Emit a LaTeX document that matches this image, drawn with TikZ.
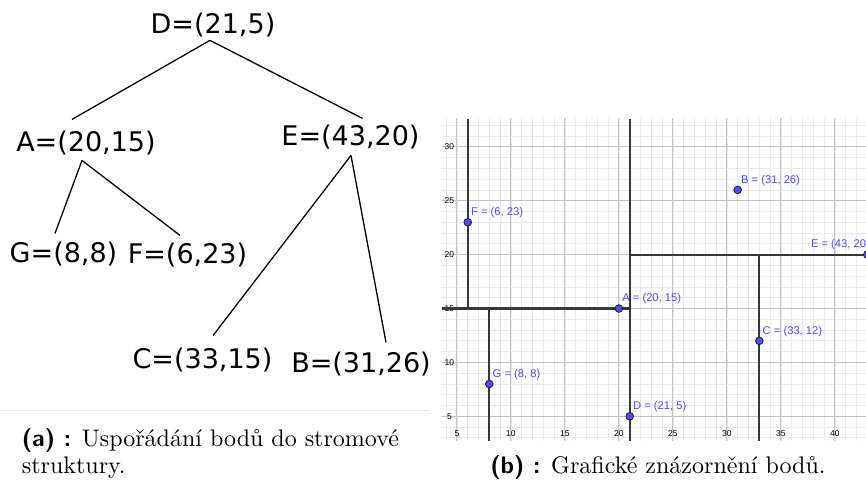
\documentclass[tikz,border=0pt]{standalone}
\usepackage{fontspec}
\setmainfont{lmroman10-regular.otf}[BoldFont=lmroman10-bold.otf]
\setsansfont{lmsans10-regular.otf}[BoldFont=lmsans10-bold.otf]
\newfontfamily\treefont{DejaVu Sans}
\newfontfamily\ggbfont{Liberation Sans}
\usepackage{xcolor}
\usepackage{tikz}
\definecolor{ggbblue}{RGB}{77,77,255}
\definecolor{ggbsplit}{RGB}{55,55,55}
\definecolor{gridmajor}{RGB}{195,195,195}
\definecolor{gridminor}{RGB}{234,234,234}

\begin{document}
\begin{tikzpicture}[x=1pt, y=-1pt,
  tree/.style={font=\treefont\fontsize{27}{30}\selectfont, inner sep=0pt, anchor=base},
  branch/.style={line width=1.3pt, black},
  split/.style={line width=2.2pt, ggbsplit},
  ggbpt/.style={circle, fill=ggbblue, draw=black!85, line width=0.9pt, inner sep=0pt, minimum size=7.6pt},
  ggblabel/.style={font=\ggbfont\fontsize{11.2}{12}\selectfont, text=ggbblue, inner sep=0pt, anchor=base west},
  tick/.style={font=\ggbfont\fontsize{8.5}{9}\selectfont, inner sep=0pt},
  capt/.style={font=\fontsize{24}{26.5}\selectfont, inner sep=0pt, align=left}]
\useasboundingbox (0,0) rectangle (866,484);

% tree of the points
\node[tree] (D) at (213,33.3) {D=(21,5)};
\node[tree] (A) at (86,151.7) {A=(20,15)};
\node[tree] (E) at (350.5,145.7) {E=(43,20)};
\node[tree] (G) at (63.5,262.7) {G=(8,8)};
\node[tree] (F) at (187.5,263.5) {F=(6,23)};
\node[tree] (C) at (202.5,368.3) {C=(33,15)};
\node[tree] (B) at (361,372.7) {B=(31,26)};
\draw[branch] ([shift={(-3pt,-3.3pt)}]D.south) -- ([shift={(-14pt,11.6pt)}]A.north);
\draw[branch] ([shift={(-3pt,-3.3pt)}]D.south) -- ([shift={(12pt,6.6pt)}]E.north);
\draw[branch] ([shift={(-4pt,-5pt)}]A.south) -- ([shift={(-8.5pt,8.6pt)}]G.north);
\draw[branch] ([shift={(-4pt,-5pt)}]A.south) -- ([shift={(-7.5pt,7.4pt)}]F.north);
\draw[branch] ([shift={(0.5pt,-6pt)}]E.south) -- ([shift={(10.5pt,12pt)}]C.north);
\draw[branch] ([shift={(0.5pt,-6pt)}]E.south) -- ([shift={(25pt,9.6pt)}]B.north);
\draw[gridminor, line width=1pt] (0,410) -- (430,410);

% plot of the points
\begin{scope}[shift={(402.9,470.2)}, x=10.8pt, y=10.78pt]
  \clip (3.59,2.71) rectangle (42.88,32.58);
  \draw[gridminor, line width=0.8pt, step=1] (3,2) grid (44,33);
  \draw[gridmajor, line width=1.1pt, step=5] (3,2) grid (44,33);
  \foreach \t in {5,10,...,40}
    \node[tick] (xt\t) at (\t,3.36) {\t};
  \foreach \t in {5,10,...,30}
    \node[tick] (yt\t) at (4.31,\t) {\t};
  \draw[split] (21,32.58) -- (21,2.71);
  \draw[split] (3.59,15) -- (21,15);
  \draw[split] (6,32.58) -- (6,15);
  \draw[split] (8,15) -- (8,2.71);
  \draw[split] (21,20) -- (42.88,20);
  \draw[split] (33,20) -- (33,2.71);
  \foreach \n/\px/\py in {A/20/15, B/31/26, C/33/12, D/21/5, F/6/23, G/8/8} {
    \node[ggbpt] (pt\n) at (\px,\py) {};
    \node[ggblabel] (lab\n) at ([shift={(3.2pt,6.8pt)}]pt\n.center) {\n{} = (\px, \py)};
  }
  \node[ggbpt] (ptE) at (43,20) {};
  \node[ggblabel] (labE) at ([shift={(-56.5pt,7pt)}]ptE.center) {E = (43, 20)};
\end{scope}

% captions
\node[capt, anchor=base west] (capA) at (21.7,473) {{\sffamily\bfseries (a) :} Uspořádání bodů do stromové\\struktury.};
\node[capt, anchor=base] (capB) at (658,473) {{\sffamily\bfseries (b) :} Grafické znázornění bodů.};
\end{tikzpicture}
\end{document}
